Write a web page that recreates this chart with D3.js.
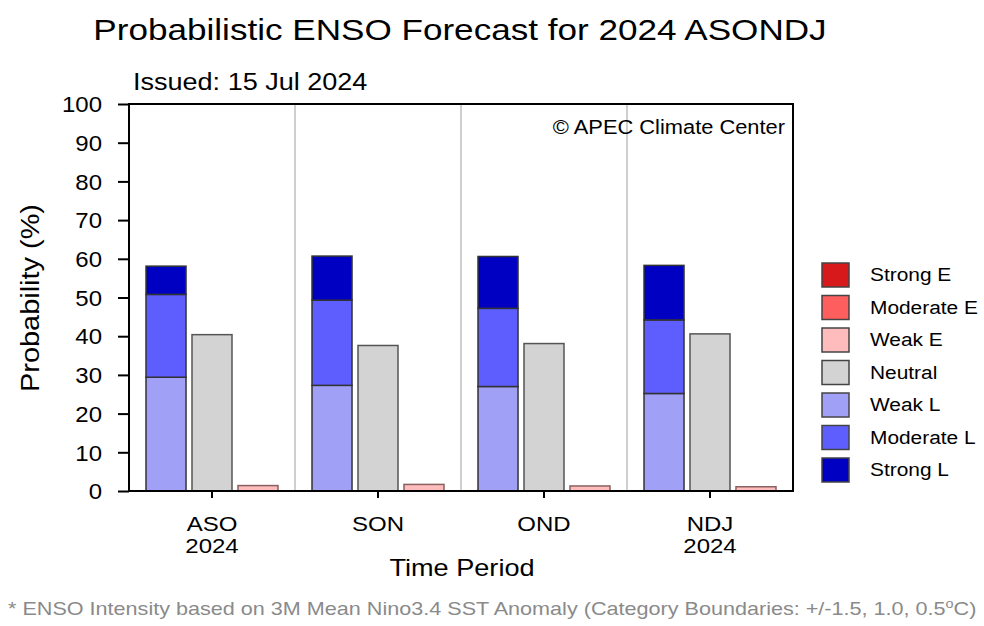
<!DOCTYPE html>
<html>
<head>
<meta charset="utf-8">
<script src="https://cdn.jsdelivr.net/npm/d3@7"></script>
<style>
  html, body { margin: 0; padding: 0; background: #fff; }
  svg { display: block; font-family: "Liberation Sans", Arial, Helvetica, sans-serif; }
</style>
</head>
<body>
<svg id="chart" width="984" height="626"></svg>
<script>
// Forecast periods and their second-line labels
const periods = ["ASO", "SON", "OND", "NDJ"];
const periodYears = ["2024", "", "", "2024"];

// Probabilities (%) per category and period
const weakL     = [29.4, 27.3, 27.0, 25.2];
const moderateL = [21.4, 22.0, 20.2, 19.0];
const strongL   = [7.3, 11.4, 13.4, 14.1];
const neutral   = [40.4, 37.6, 38.1, 40.6];
const weakE     = [1.4, 1.7, 1.3, 1.1];
const moderateE = [0, 0, 0, 0];
const strongE   = [0, 0, 0, 0];

const yTicks = [0, 10, 20, 30, 40, 50, 60, 70, 80, 90, 100];

const legendNames  = ["Strong E", "Moderate E", "Weak E", "Neutral", "Weak L", "Moderate L", "Strong L"];
const legendColors = ["#d7191c", "#ff5e5e", "#ffbcbc", "#d3d3d3", "#a0a0f6", "#5e5eff", "#0000c2"];
const colorOf = d3.scaleOrdinal().domain(legendNames).range(legendColors);

const svg = d3.select("#chart");
const plot = { left: 129, right: 793, top: 104, bottom: 491 };

// Widen glyphs horizontally by a factor (the lettering is a broad grotesque)
function widen(sel, f) {
  sel.each(function () {
    const w = this.getComputedTextLength();
    d3.select(this).attr("textLength", w * f).attr("lengthAdjust", "spacingAndGlyphs");
  });
  return sel;
}

const x = d3.scaleBand().domain(periods).range([plot.left, plot.right]);
const inner = d3.scaleBand().domain(["La Nina", "Neutral", "El Nino"])
  .range([0, x.bandwidth()]).paddingInner(0.13).paddingOuter(0.37);
const y = d3.scaleLinear().domain([0, 100]).range([plot.bottom, plot.top]);

// Title and annotations
widen(svg.append("text").attr("x", 460).attr("y", 40).attr("text-anchor", "middle")
  .attr("font-size", 29).text("Probabilistic ENSO Forecast for 2024 ASONDJ"), 1.21);
widen(svg.append("text").attr("x", 133).attr("y", 90).attr("font-size", 23.3)
  .text("Issued: 15 Jul 2024"), 1.16);

// Period separators
svg.append("g").selectAll("line").data(periods.slice(1)).join("line")
  .attr("x1", d => x(d)).attr("x2", d => x(d))
  .attr("y1", plot.top).attr("y2", plot.bottom)
  .attr("stroke", "#cfcfcf").attr("stroke-width", 2);

widen(svg.append("text").attr("x", 785).attr("y", 134).attr("text-anchor", "end")
  .attr("font-size", 19.5).text("©  APEC Climate Center"), 1.12);

// Stacked La Niña bars
const lnStack = periods.map((p, i) => {
  const segs = [["Weak L", weakL[i]], ["Moderate L", moderateL[i]], ["Strong L", strongL[i]]];
  let base = 0;
  return segs.map(([name, v]) => { const s = { p, name, y0: base, y1: base + v }; base += v; return s; });
}).flat();

const bars = svg.append("g").attr("stroke", "#333").attr("stroke-width", 1.5);
bars.selectAll("rect.ln").data(lnStack).join("rect").attr("class", "ln")
  .attr("x", d => x(d.p) + inner("La Nina"))
  .attr("width", inner.bandwidth())
  .attr("y", d => y(d.y1))
  .attr("height", d => y(d.y0) - y(d.y1))
  .attr("fill", d => colorOf(d.name));

bars.selectAll("rect.nt").data(periods).join("rect").attr("class", "nt")
  .attr("x", d => x(d) + inner("Neutral"))
  .attr("width", inner.bandwidth())
  .attr("y", (d, i) => y(neutral[i]))
  .attr("height", (d, i) => y(0) - y(neutral[i]))
  .attr("fill", colorOf("Neutral")).attr("stroke", "#555");

// Stacked El Niño bars
const enStack = periods.map((p, i) => {
  const segs = [["Weak E", weakE[i]], ["Moderate E", moderateE[i]], ["Strong E", strongE[i]]];
  let base = 0;
  return segs.filter(s => s[1] > 0).map(([name, v]) => { const s = { p, name, y0: base, y1: base + v }; base += v; return s; });
}).flat();
bars.selectAll("rect.en").data(enStack).join("rect").attr("class", "en")
  .attr("x", d => x(d.p) + inner("El Nino"))
  .attr("width", inner.bandwidth())
  .attr("y", d => y(d.y1))
  .attr("height", d => y(d.y0) - y(d.y1))
  .attr("fill", d => colorOf(d.name)).attr("stroke", "#8a6060");

// Frame
svg.append("rect").attr("x", plot.left).attr("y", plot.top)
  .attr("width", plot.right - plot.left).attr("height", plot.bottom - plot.top)
  .attr("fill", "none").attr("stroke", "#000").attr("stroke-width", 2);

// Y axis
const yAxis = svg.append("g").attr("transform", `translate(${plot.left},0)`)
  .call(d3.axisLeft(y).tickValues(yTicks).tickSize(11).tickPadding(16));
yAxis.select(".domain").remove();
yAxis.selectAll("line").attr("stroke", "#000").attr("stroke-width", 2);
widen(yAxis.selectAll("text").attr("font-size", 21.4).attr("font-family", "Liberation Sans, Arial, sans-serif")
  .attr("fill", "#000").attr("dy", "0.36em"), 1.12);

// X axis: period label with optional year on a second line
const xAxis = svg.append("g").attr("transform", `translate(0,${plot.bottom})`)
  .call(d3.axisBottom(x).tickSize(7).tickFormat(""));
xAxis.select(".domain").remove();
xAxis.selectAll("line").attr("stroke", "#000").attr("stroke-width", 2);
const xl = svg.append("g").attr("text-anchor", "middle").attr("font-size", 20)
  .selectAll("text").data(periods).join("text")
  .attr("transform", d => `translate(${x(d) + x.bandwidth() / 2},531) scale(1.2,1)`);
xl.append("tspan").attr("x", 0).attr("y", 0).text(d => d);
xl.append("tspan").attr("x", 0).attr("y", 22).text((d, i) => periodYears[i]);

// Axis titles
widen(svg.append("text").attr("x", 462).attr("y", 576).attr("text-anchor", "middle")
  .attr("font-size", 24).text("Time Period"), 1.13);
svg.append("text").attr("transform", "translate(39,298) rotate(-90)")
  .attr("text-anchor", "middle").attr("font-size", 26)
  .attr("textLength", 188).attr("lengthAdjust", "spacingAndGlyphs")
  .text("Probability (%)");

// Legend
const lg = svg.append("g").selectAll("g").data(legendNames).join("g")
  .attr("transform", (d, i) => `translate(822,${263 + i * 32.5})`);
lg.append("rect").attr("width", 27).attr("height", 24)
  .attr("fill", d => colorOf(d)).attr("stroke", "#444").attr("stroke-width", 1.5);
widen(lg.append("text").attr("x", 48).attr("y", 12).attr("dy", "0.36em")
  .attr("font-size", 18).text(d => d), 1.16);

// Footnote (with superscript degree mark)
const fn = svg.append("g").attr("transform", "translate(8,615) scale(1.2,1)")
  .append("text").attr("font-size", 18).attr("fill", "#8a8a8a");
fn.append("tspan").text("* ENSO Intensity based on 3M Mean Nino3.4 SST Anomaly (Category Boundaries: +/-1.5, 1.0, 0.5");
fn.append("tspan").attr("dy", -7).attr("font-size", 12).text("o");
fn.append("tspan").attr("dy", 7).text("C)");
</script>
</body>
</html>
